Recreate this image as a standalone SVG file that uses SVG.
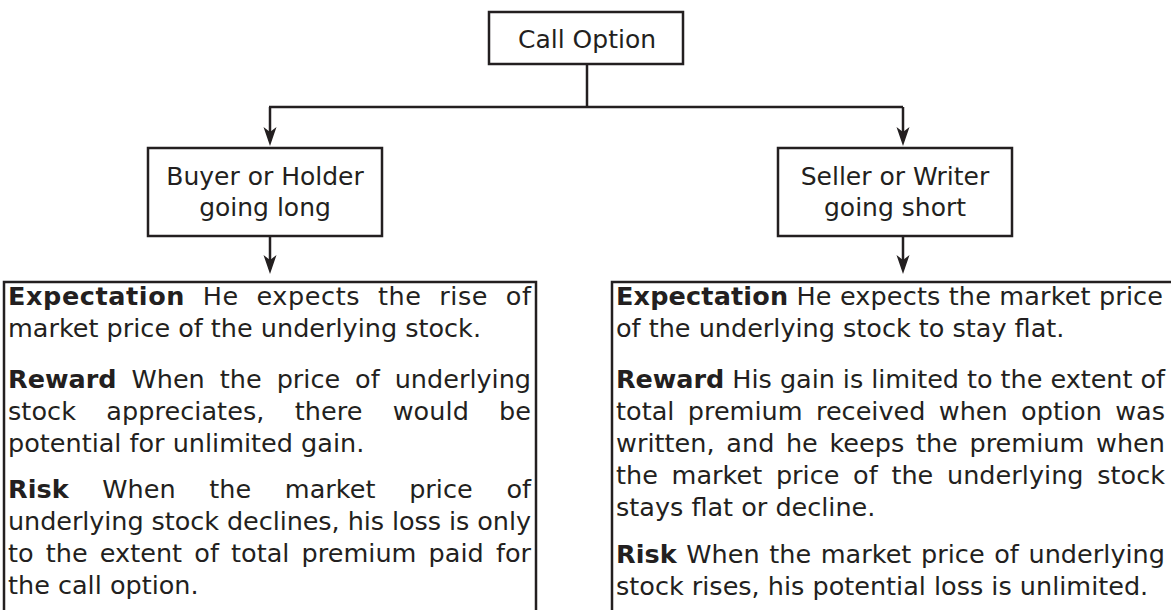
<svg xmlns="http://www.w3.org/2000/svg" width="1171" height="610" viewBox="0 0 1171 610">
<style>
  .box { fill: #ffffff; stroke: #231f20; stroke-width: 2.5; }
  .ln { fill: none; stroke: #231f20; stroke-width: 2.5; }
  .nt { font-family: "DejaVu Sans", "Liberation Sans", sans-serif; font-size: 25px; fill: #231f20; text-anchor: middle; }
  .bt { font-family: "DejaVu Sans", "Liberation Sans", sans-serif; font-size: 25.5px; fill: #231f20; }
  .b { font-weight: bold; }
</style>
<defs>
  <marker id="ah" markerUnits="userSpaceOnUse" viewBox="-16 -8 22 16" markerWidth="22" markerHeight="16" refX="0" refY="0" orient="auto">
    <path d="M5,0 L-14,-6.5 L-9,0 L-14,6.5 Z" fill="#231f20"/>
  </marker>
</defs>
<rect width="1171" height="610" fill="#ffffff"/>
<g id="connectors">
  <path class="ln" d="M587,64 L587,107"/>
  <path class="ln" d="M269,107 L903,107"/>
  <path class="ln" d="M270,107 L270,141" marker-end="url(#ah)"/>
  <path class="ln" d="M903,107 L903,141" marker-end="url(#ah)"/>
  <path class="ln" d="M270,236 L270,269" marker-end="url(#ah)"/>
  <path class="ln" d="M903,236 L903,269" marker-end="url(#ah)"/>
</g>
<g id="call-option">
  <rect class="box" x="489" y="12" width="194" height="52"/>
  <text class="nt" x="587" y="48">Call Option</text>
</g>
<g id="buyer">
  <rect class="box" x="148" y="148" width="234" height="88"/>
  <text class="nt" x="265" y="185">Buyer or Holder</text>
  <text class="nt" x="265" y="216">going long</text>
</g>
<g id="seller">
  <rect class="box" x="778" y="148" width="234" height="88"/>
  <text class="nt" x="895" y="185">Seller or Writer</text>
  <text class="nt" x="895" y="216">going short</text>
</g>
<g id="buyer-details">
  <rect class="box" x="4" y="282" width="532" height="340"/>
  <text class="bt" x="8" y="305" word-spacing="9" textLength="523" lengthAdjust="spacing"><tspan class="b">Expectation</tspan>  He expects the rise of</text>
  <text class="bt" x="8" y="337">market price of the underlying stock.</text>
  <text class="bt" x="8" y="388" word-spacing="6.9" textLength="523" lengthAdjust="spacing"><tspan class="b">Reward</tspan> When the price of underlying</text>
  <text class="bt" x="8" y="420" word-spacing="22" textLength="523" lengthAdjust="spacing">stock appreciates, there would be</text>
  <text class="bt" x="8" y="452">potential for unlimited gain.</text>
  <text class="bt" x="8" y="498" word-spacing="25.5" textLength="523" lengthAdjust="spacing"><tspan class="b">Risk</tspan> When the market price of</text>
  <text class="bt" x="8" y="530" textLength="523" lengthAdjust="spacing">underlying stock declines, his loss is only</text>
  <text class="bt" x="8" y="562" word-spacing="4" textLength="523" lengthAdjust="spacing">to the extent of total premium paid for</text>
  <text class="bt" x="8" y="594">the call option.</text>
</g>
<g id="seller-details">
  <rect class="box" x="612" y="282" width="570" height="340"/>
  <text class="bt" x="616" y="305" textLength="547" lengthAdjust="spacing"><tspan class="b">Expectation</tspan> He expects the market price</text>
  <text class="bt" x="616" y="337">of the underlying stock to stay flat.</text>
  <text class="bt" x="616" y="388" textLength="549" lengthAdjust="spacing"><tspan class="b">Reward</tspan> His gain is limited to the extent of</text>
  <text class="bt" x="616" y="420" word-spacing="5.2" textLength="549" lengthAdjust="spacing">total premium received when option was</text>
  <text class="bt" x="616" y="452" word-spacing="3.4" textLength="549" lengthAdjust="spacing">written, and he keeps the premium when</text>
  <text class="bt" x="616" y="484" word-spacing="5.5" textLength="549" lengthAdjust="spacing">the market price of the underlying stock</text>
  <text class="bt" x="616" y="516">stays flat or decline.</text>
  <text class="bt" x="616" y="563" word-spacing="1.5" textLength="549" lengthAdjust="spacing"><tspan class="b">Risk</tspan> When the market price of underlying</text>
  <text class="bt" x="616" y="595">stock rises, his potential loss is unlimited.</text>
</g>
</svg>
